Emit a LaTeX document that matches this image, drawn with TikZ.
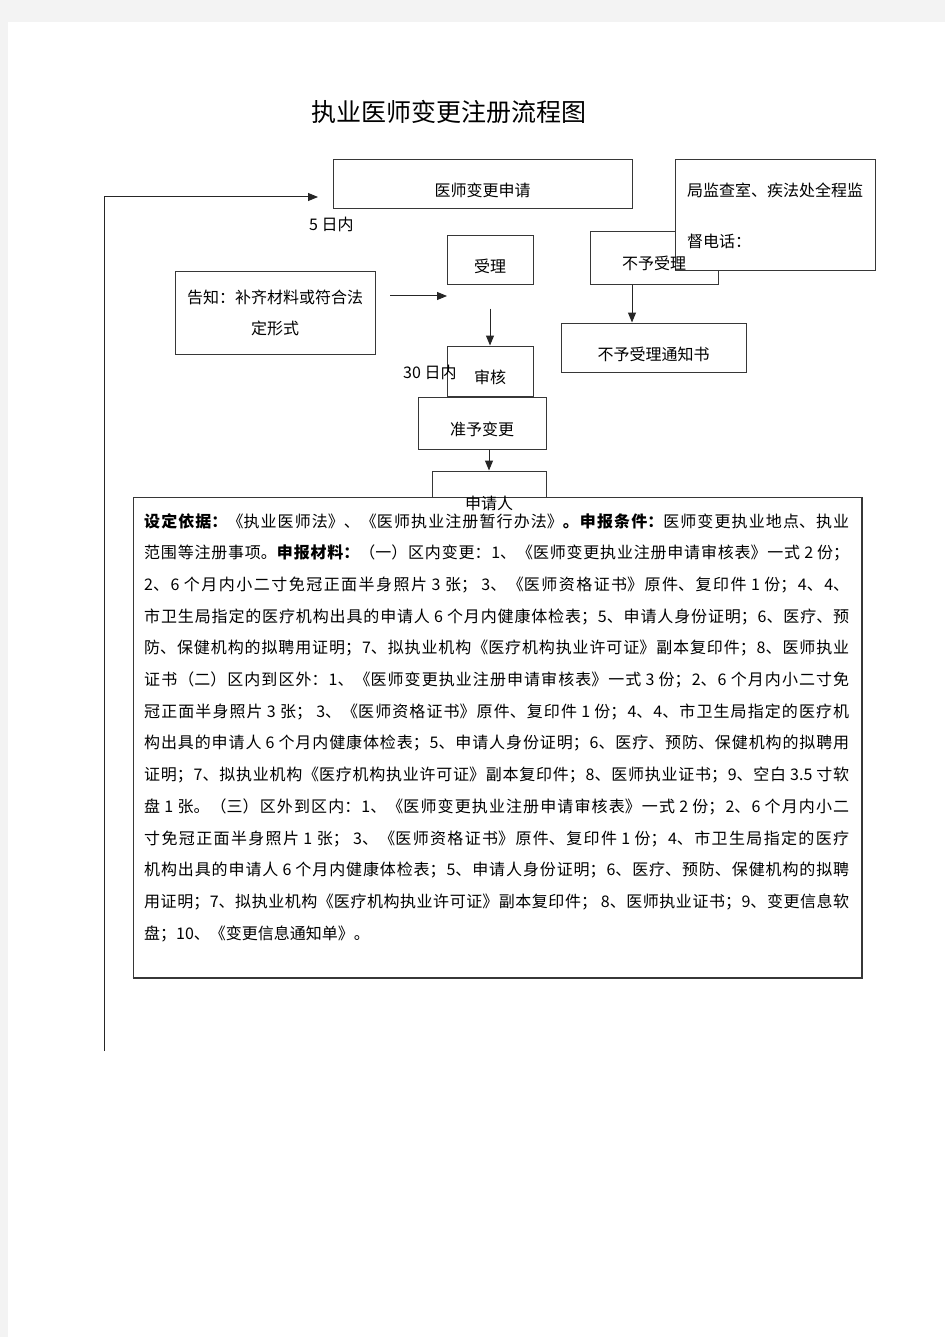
\documentclass[tikz,border=0pt]{standalone}
\usepackage{fontspec}
\setmainfont{Noto Sans CJK SC}
\usetikzlibrary{arrows.meta}
\definecolor{pagegray}{RGB}{243,243,243}
\definecolor{linegray}{RGB}{55,55,55}
\tikzset{
  box/.style={draw=linegray, line width=1pt, fill=white, inner sep=0pt,
    font=\fontsize{16}{20}\selectfont, text height=27pt, text depth=2pt},
  lbl/.style={inner sep=0pt, font=\fontsize{16}{20}\selectfont},
  arr/.style={draw=black!85, line width=1pt, -{Triangle[length=10pt,width=8pt]}},
}
\begin{document}
\begin{tikzpicture}[x=1pt,y=-1pt]
\useasboundingbox (0,0) rectangle (945,1337);
\fill[pagegray] (0,0) rectangle (945,1337);
\fill[white] (8,22) rectangle (945,1337);
% title
\node[inner sep=0pt, font=\fontsize{25}{28}\selectfont] (title) at (449,112) {执业医师变更注册流程图};
% boxes
\node[box, minimum width=299pt, minimum height=49pt] (request) at (482.5,184.5) {医师变更申请};
\node[box, minimum width=86pt, minimum height=49pt] (accept) at (490,260.5) {受理};
\node[box, minimum width=200pt, minimum height=82pt, text height=, text depth=,
  align=center, font=\fontsize{16}{31}\selectfont] (notice) at (275,313) {告知：补齐材料或符合法\\定形式};
\node[box, minimum width=86pt, minimum height=50pt] (review) at (490,371) {审核};
\node[box, minimum width=128pt, minimum height=52pt] (approve) at (482,423) {准予变更};
\node[box, minimum width=128pt, minimum height=53pt] (reject) at (654,258.5) {};
\node[box, minimum width=200pt, minimum height=111pt, text height=, text depth=,
  text width=176pt, align=left, font=\fontsize{16}{51}\selectfont] (phone) at (775,215.5) {局监查室、疾法处全程监\\督电话：};
\node[lbl] (rejecttxt) at (654,263) {不予受理};
\node[box, minimum width=185pt, minimum height=49pt] (rejnote) at (653.5,347.5) {不予受理通知书};
\node[box, minimum width=114pt, minimum height=50pt] (applicant) at (489,496) {};
\node[box, minimum width=728pt, minimum height=480pt] (basis) at (497,737) {};
\draw[linegray, line width=1.6pt] ([yshift=-0.5pt]basis.south west) -- ([shift={(0.5pt,-0.5pt)}]basis.south east) -- ([xshift=0.5pt]basis.north east);
\node[lbl] (applicanttxt) at (489,503) {申请人};
% day limits
\node[lbl, anchor=west] (days5) at (309,224) {5 日内};
\node[lbl, anchor=west] (days30) at (403,372) {30 日内};
% connectors
\coordinate (loopstart) at (104,1051);
\coordinate (loopend) at (318,197);
\coordinate (noticefrom) at (390,296);
\coordinate (noticeto) at (447,296);
\draw[arr] (loopstart) |- (loopend);
\draw[arr] (noticefrom) -- (noticeto);
\draw[arr] ([yshift=-23pt]accept.south) -- (review.north);
\draw[arr] ([xshift=-22pt]reject.south) -- ([xshift=-22pt]reject.south |- rejnote.north);
\draw[arr] (approve.south -| applicant.north) -- (applicant.north);
% basis text
\node[anchor=base west, inner sep=0pt, text width=705pt, align=justify,
  font=\fontsize{16}{31.7}\selectfont] (basistxt) at (144,527) {%
\XeTeXlinebreaklocale "zh"\XeTeXlinebreakskip=0pt plus 3pt\tolerance=9999
{\bfseries 设定依据：}《执业医师法》、《医师执业注册暂行办法》{\bfseries 。申报条件：}医师变更执业地点、执业\linebreak
范围等注册事项。{\bfseries 申报材料：}（一）区内变更：1、《医师变更执业注册申请审核表》一式 2 份；\linebreak
2、6 个月内小二寸免冠正面半身照片 3 张； 3、《医师资格证书》原件、复印件 1 份；4、4、\linebreak
市卫生局指定的医疗机构出具的申请人 6 个月内健康体检表；5、申请人身份证明；6、医疗、预\linebreak
防、保健机构的拟聘用证明；7、拟执业机构《医疗机构执业许可证》副本复印件；8、医师执业\linebreak
证书（二）区内到区外：1、《医师变更执业注册申请审核表》一式 3 份；2、6 个月内小二寸免\linebreak
冠正面半身照片 3 张； 3、《医师资格证书》原件、复印件 1 份；4、4、市卫生局指定的医疗机\linebreak
构出具的申请人 6 个月内健康体检表；5、申请人身份证明；6、医疗、预防、保健机构的拟聘用\linebreak
证明；7、拟执业机构《医疗机构执业许可证》副本复印件；8、医师执业证书；9、空白 3.5 寸软\linebreak
盘 1 张。（三）区外到区内：1、《医师变更执业注册申请审核表》一式 2 份；2、6 个月内小二\linebreak
寸免冠正面半身照片 1 张； 3、《医师资格证书》原件、复印件 1 份；4、市卫生局指定的医疗\linebreak
机构出具的申请人 6 个月内健康体检表；5、申请人身份证明；6、医疗、预防、保健机构的拟聘\linebreak
用证明；7、拟执业机构《医疗机构执业许可证》副本复印件； 8、医师执业证书；9、变更信息软\linebreak
盘；10、《变更信息通知单》。};
\end{tikzpicture}
\end{document}
